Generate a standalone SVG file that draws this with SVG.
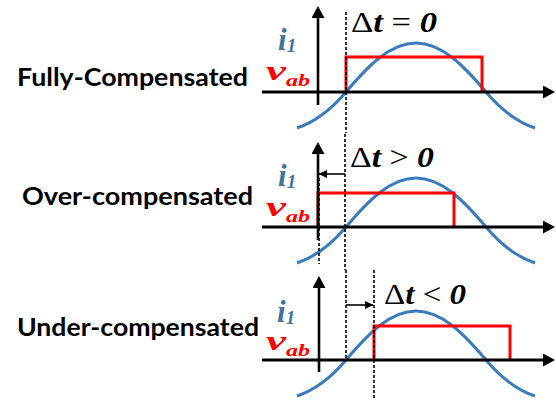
<svg xmlns="http://www.w3.org/2000/svg" width="556" height="408" viewBox="0 0 556 408">
<defs>
<style>
.lbl{font-family:Lato,"Open Sans",sans-serif;font-weight:bold;font-size:25px;fill:#000}
.dt{font-family:"Liberation Serif",serif;font-size:29px;fill:#000}
.bi{font-weight:bold;font-style:italic}
.i1{font-family:"Liberation Serif",serif;font-weight:bold;font-style:italic;fill:#41719C}
.vab{font-family:"Liberation Serif",serif;font-weight:bold;font-style:italic;fill:#FF0000}
.curve{fill:none;stroke:#3A7BBD;stroke-width:3}
.sq{fill:none;stroke:#FF0000;stroke-width:3}
.hax{stroke:#000;stroke-width:3;fill:none;marker-end:url(#big)}
.vax{stroke:#000;stroke-width:2.6;fill:none;marker-end:url(#big)}
.dash{stroke:#000;stroke-width:1.6;stroke-dasharray:3 2;fill:none}
.sarr{stroke:#000;stroke-width:1.6;fill:none;marker-end:url(#small)}
</style>
<marker id="big" markerUnits="userSpaceOnUse" markerWidth="13" markerHeight="13" refX="2" refY="6.5" orient="auto">
<path d="M0,0 L12,6.5 L0,13 z" fill="#000"/>
</marker>
<marker id="small" markerUnits="userSpaceOnUse" markerWidth="9" markerHeight="9" refX="8" refY="4.5" orient="auto">
<path d="M0,0.5 L8.5,4.5 L0,8.5 z" fill="#000"/>
</marker>
<path id="wave" d="M297,128 C318,121 335,105 346,92 C368,66 390,43 416,43 C442,43 464,66 486,92 C497,105 514,121 535,128"/>
</defs>

<g id="labels">
<text class="lbl" x="17" y="86" textLength="231" lengthAdjust="spacingAndGlyphs">Fully-Compensated</text>
<text class="lbl" x="22" y="205" textLength="231" lengthAdjust="spacingAndGlyphs">Over-compensated</text>
<text class="lbl" x="17" y="336" textLength="242" lengthAdjust="spacingAndGlyphs">Under-compensated</text>
</g>

<g id="panel-fully">
<use href="#wave" class="curve"/>
<polyline class="sq" points="346,92 346,57 482,57 482,92"/>
<line class="hax" x1="262" y1="92" x2="545" y2="92"/>
<line class="vax" x1="318" y1="105" x2="318" y2="16"/>
<line class="dash" x1="346" y1="12" x2="346" y2="133"/>
<text class="i1" x="278" y="50" font-size="31">i<tspan font-size="19" dy="2">1</tspan></text>
<text class="vab" x="266" y="80" font-size="28" textLength="20" lengthAdjust="spacingAndGlyphs">v</text>
<text class="vab" x="286" y="86" font-size="17" textLength="24" lengthAdjust="spacingAndGlyphs">ab</text>
<text class="dt" x="351" y="32" textLength="86" lengthAdjust="spacingAndGlyphs">Δ<tspan class="bi">t</tspan> = <tspan class="bi">0</tspan></text>
</g>

<g id="panel-over">
<use href="#wave" class="curve" transform="translate(0,135)"/>
<polyline class="sq" points="318,227 318,193 454,193 454,227"/>
<line class="hax" x1="262" y1="227" x2="545" y2="227"/>
<line class="vax" x1="318" y1="240" x2="318" y2="152"/>
<line class="dash" x1="319" y1="178" x2="319" y2="264"/>
<line class="dash" x1="345" y1="134" x2="345" y2="270"/>
<line class="sarr" x1="345" y1="174" x2="319" y2="174"/>
<text class="i1" x="278" y="186" font-size="31">i<tspan font-size="19" dy="2">1</tspan></text>
<text class="vab" x="266" y="216" font-size="28" textLength="20" lengthAdjust="spacingAndGlyphs">v</text>
<text class="vab" x="286" y="222" font-size="17" textLength="24" lengthAdjust="spacingAndGlyphs">ab</text>
<text class="dt" x="350" y="167" textLength="84" lengthAdjust="spacingAndGlyphs">Δ<tspan class="bi">t</tspan> &gt; <tspan class="bi">0</tspan></text>
</g>

<g id="panel-under">
<use href="#wave" class="curve" transform="translate(0,268)"/>
<polyline class="sq" points="374,360 374,326 510,326 510,360"/>
<line class="hax" x1="262" y1="360" x2="545" y2="360"/>
<line class="vax" x1="319" y1="372" x2="319" y2="286"/>
<line class="dash" x1="346" y1="270" x2="346" y2="360"/>
<line class="dash" x1="374" y1="270" x2="374" y2="399"/>
<line class="sarr" x1="346" y1="305" x2="373" y2="305"/>
<text class="i1" x="277" y="322" font-size="31">i<tspan font-size="19" dy="2">1</tspan></text>
<text class="vab" x="266" y="350" font-size="28" textLength="20" lengthAdjust="spacingAndGlyphs">v</text>
<text class="vab" x="286" y="356" font-size="17" textLength="24" lengthAdjust="spacingAndGlyphs">ab</text>
<text class="dt" x="384" y="304" textLength="82" lengthAdjust="spacingAndGlyphs">Δ<tspan class="bi">t</tspan> &lt; <tspan class="bi">0</tspan></text>
</g>
</svg>
